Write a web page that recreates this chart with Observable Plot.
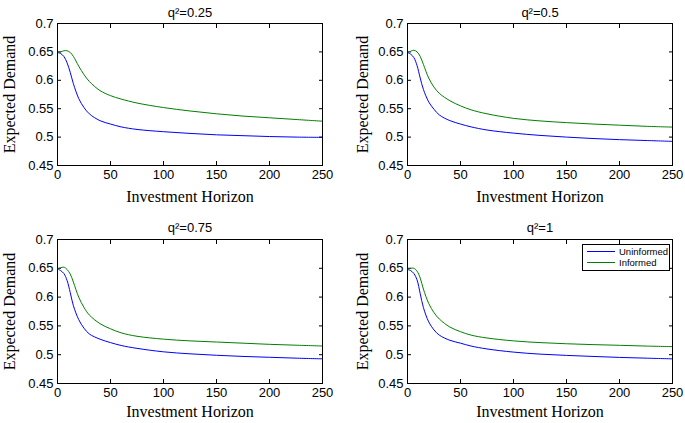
<!DOCTYPE html>
<html>
<head>
<meta charset="utf-8">
<script src="https://cdn.jsdelivr.net/npm/d3@7"></script>
<script src="https://cdn.jsdelivr.net/npm/@observablehq/plot@0.6"></script>
<style>
  html, body { margin: 0; padding: 0; background: #fff; }
  #wrap { position: relative; width: 685px; height: 423px; background: #fff; overflow: hidden; }
  .panel { position: absolute; }
  #legend { position: absolute; left: 582px; top: 244px; width: 86px; height: 25px; border: 1px solid #000; background: #fff;
            font-family: "Liberation Sans", Arial, sans-serif; font-size: 9.5px; color: #000; }
  #legend .row { position: absolute; left: 4px; height: 11px; display: flex; align-items: center; }
  #legend .sw { width: 28px; height: 0; border-top: 1px solid; margin-right: 4px; }
</style>
</head>
<body>
<div id="wrap"></div>
<script>
const horizon = [0, 3, 6, 9, 12, 15, 20, 25, 30, 40, 50, 60, 75, 100, 125, 150, 175, 200, 225, 250];
const panelTitles = ["q²=0.25", "q²=0.5", "q²=0.75", "q²=1"];
const seriesNames = ["Uninformed", "Informed"];
const seriesColors = ["#0000ff", "#008000"];
const xTicks = [0, 50, 100, 150, 200, 250];
const yTicks = [0.45, 0.5, 0.55, 0.6, 0.65, 0.7];

const uninformed025 = [0.649,0.647,0.642,0.631,0.614,0.594,0.568,0.552,0.541,0.529,0.523,0.518,0.5135,0.5095,0.5065,0.504,0.5025,0.501,0.500,0.4995];
const informed025   = [0.649,0.650,0.652,0.652,0.649,0.642,0.625,0.610,0.598,0.582,0.573,0.567,0.560,0.552,0.546,0.541,0.537,0.534,0.531,0.528];
const uninformed05  = [0.649,0.646,0.640,0.626,0.604,0.584,0.562,0.549,0.539,0.529,0.523,0.518,0.5125,0.507,0.503,0.500,0.4975,0.4955,0.494,0.4925];
const informed05    = [0.649,0.651,0.653,0.650,0.642,0.628,0.604,0.588,0.577,0.564,0.555,0.548,0.541,0.533,0.5285,0.5255,0.523,0.521,0.519,0.5176];
const uninformed075 = [0.649,0.646,0.641,0.629,0.608,0.585,0.561,0.546,0.536,0.527,0.521,0.516,0.511,0.505,0.5015,0.499,0.497,0.4955,0.494,0.4928];
const informed075   = [0.649,0.651,0.652,0.648,0.640,0.626,0.600,0.582,0.569,0.554,0.545,0.538,0.532,0.527,0.524,0.522,0.520,0.518,0.5165,0.5151];
const uninformed1   = [0.648,0.646,0.641,0.630,0.606,0.582,0.557,0.543,0.534,0.525,0.520,0.515,0.510,0.5045,0.501,0.4988,0.497,0.4953,0.494,0.4928];
const informed1     = [0.648,0.650,0.650,0.645,0.633,0.614,0.589,0.573,0.562,0.548,0.540,0.534,0.529,0.524,0.521,0.519,0.5175,0.5163,0.515,0.514];

const panelSeries = [
  [uninformed025, informed025],
  [uninformed05, informed05],
  [uninformed075, informed075],
  [uninformed1, informed1]
];

const layout = [
  {left: 0, top: 0, height: 211, mb: 46, xt: 31, tt: -11, yt: -48},
  {left: 350, top: 0, height: 211, mb: 46, xt: 31, tt: -11, yt: -45},
  {left: 0, top: 216, height: 207, mb: 40, xt: 28, tt: -12, yt: -48},
  {left: 350, top: 216, height: 207, mb: 40, xt: 28, tt: -12, yt: -45}
];

const sans = "'Liberation Sans', Arial, sans-serif";
const serif = "'Liberation Serif', 'Times New Roman', serif";
const wrap = document.getElementById("wrap");

panelSeries.forEach((pair, i) => {
  const L = layout[i];
  const rows = [];
  pair.forEach((vals, s) => vals.forEach((v, k) => rows.push({x: horizon[k], y: v, series: seriesNames[s]})));
  const fmt = d => String(+d.toFixed(2));
  const chart = Plot.plot({
    width: 335,
    height: L.height,
    marginLeft: 57,
    marginRight: 13,
    marginTop: 23,
    marginBottom: L.mb,
    style: {fontFamily: sans, fontSize: "13px", color: "#000", background: "#fff", overflow: "visible"},
    x: {domain: [0, 250]},
    y: {domain: [0.45, 0.7]},
    color: {domain: seriesNames, range: seriesColors},
    marks: [
      Plot.axisX({ticks: xTicks, tickSize: -4, tickPadding: 8, label: null, fontSize: 13, tickFormat: fmt}),
      Plot.axisX({anchor: "top", ticks: xTicks, tickSize: -4, label: null, tickFormat: () => ""}),
      Plot.axisY({ticks: yTicks, tickSize: -4, tickPadding: 8, label: null, fontSize: 13, tickFormat: fmt}),
      Plot.axisY({anchor: "right", ticks: yTicks, tickSize: -4, label: null, tickFormat: () => ""}),
      Plot.line(rows, {x: "x", y: "y", z: "series", stroke: "series", strokeWidth: 1, curve: "catmull-rom"}),
      Plot.frame({stroke: "#000", strokeWidth: 1}),
      Plot.text([panelTitles[i]], {frameAnchor: "top", lineAnchor: "middle", dy: L.tt, fontSize: 13, fontFamily: sans}),
      Plot.text(["Investment Horizon"], {frameAnchor: "bottom", lineAnchor: "middle", dy: L.xt, fontSize: 16, fontFamily: serif}),
      Plot.text(["Expected Demand"], {frameAnchor: "left", textAnchor: "middle", lineAnchor: "middle", dx: L.yt, rotate: -90, fontSize: 16, fontFamily: serif})
    ]
  });
  chart.classList.add("panel");
  chart.style.left = L.left + "px";
  chart.style.top = L.top + "px";
  wrap.appendChild(chart);
});

const legend = document.createElement("div");
legend.id = "legend";
seriesNames.forEach((name, s) => {
  const row = document.createElement("div");
  row.className = "row";
  row.style.top = (1 + s * 11) + "px";
  const sw = document.createElement("span");
  sw.className = "sw";
  sw.style.borderTopColor = seriesColors[s];
  const t = document.createElement("span");
  t.textContent = name;
  row.appendChild(sw);
  row.appendChild(t);
  legend.appendChild(row);
});
wrap.appendChild(legend);
</script>
</body>
</html>
